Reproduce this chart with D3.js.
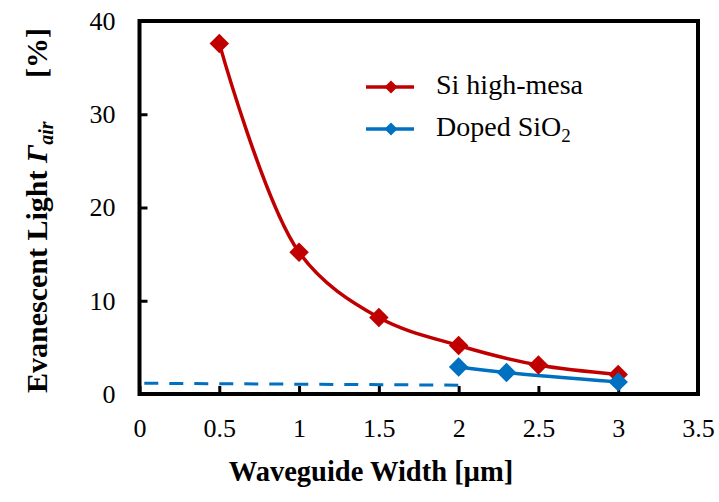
<!DOCTYPE html>
<html>
<head>
<meta charset="utf-8">
<script src="https://cdn.jsdelivr.net/npm/d3@7"></script>
<style>
  html, body { margin: 0; padding: 0; background: #fff; }
  svg { display: block; font-family: "Liberation Serif", "Times New Roman", serif; }
</style>
</head>
<body>
<svg id="chart" width="719" height="502"></svg>
<script>
// Evanescent light fraction vs waveguide width
const siWidth = [0.5, 1, 1.5, 2, 2.5, 3];
const siValue = [37.6, 15.2, 8.2, 5.2, 3.1, 2.1];

const sioWidth = [2, 2.3, 3];
const sioValue = [2.9, 2.3, 1.3];

const dashWidth = [0.03, 2];
const dashValue = [1.15, 0.95];

const xTicks = [0, 0.5, 1, 1.5, 2, 2.5, 3, 3.5];
const yTicks = [0, 10, 20, 30, 40];

const svg = d3.select("#chart");
const plotLeft = 139.5, plotRight = 698, plotTop = 21, plotBottom = 394;

const x = d3.scaleLinear().domain([0, 3.5]).range([plotLeft, plotRight]);
const y = d3.scaleLinear().domain([0, 40]).range([plotBottom, plotTop]);

const red = "#C00000", blue = "#0070C0";

// frame
svg.append("rect")
  .attr("x", plotLeft).attr("y", plotTop)
  .attr("width", plotRight - plotLeft).attr("height", plotBottom - plotTop)
  .attr("fill", "none").attr("stroke", "#000").attr("stroke-width", 4);

// axes with inward ticks
const xAxis = svg.append("g").attr("transform", `translate(0,${plotBottom})`)
  .call(d3.axisBottom(x).tickValues(xTicks).tickSize(-8).tickPadding(25).tickFormat(d3.format("")));
const yAxis = svg.append("g").attr("transform", `translate(${plotLeft},0)`)
  .call(d3.axisLeft(y).tickValues(yTicks).tickSize(-8).tickPadding(24).tickFormat(d3.format("")));
[xAxis, yAxis].forEach(g => {
  g.select(".domain").remove();
  g.selectAll(".tick line").attr("stroke", "#000").attr("stroke-width", 3);
  g.selectAll(".tick text").attr("fill", "#000")
    .style("font-family", "'Liberation Serif', serif").style("font-size", "26px");
});

// series
const line = d3.line().x(d => x(d[0])).y(d => y(d[1])).curve(d3.curveCatmullRom.alpha(0.5));
const siData = siWidth.map((w, i) => [w, siValue[i]]);
const sioData = sioWidth.map((w, i) => [w, sioValue[i]]);
const dashData = dashWidth.map((w, i) => [w, dashValue[i]]);

svg.append("path").datum(dashData)
  .attr("d", d3.line().x(d => x(d[0])).y(d => y(d[1])))
  .attr("fill", "none").attr("stroke", blue).attr("stroke-width", 3)
  .attr("stroke-dasharray", "14,11");

svg.append("path").datum(siData).attr("d", line)
  .attr("fill", "none").attr("stroke", red).attr("stroke-width", 3.5);
svg.append("path").datum(sioData).attr("d", line)
  .attr("fill", "none").attr("stroke", blue).attr("stroke-width", 3.5);

const diamond = d3.symbol().type(d3.symbolSquare).size(190);
function markers(data, color) {
  svg.append("g").selectAll("path").data(data).join("path")
    .attr("d", diamond)
    .attr("transform", d => `translate(${x(d[0])},${y(d[1])}) rotate(45)`)
    .attr("fill", color);
}
markers(siData, red);
markers(sioData, blue);

// legend
const legendDiamond = d3.symbol().type(d3.symbolSquare).size(85);
const legend = [
  { label: "Si high-mesa", color: red, y: 87 },
  { label: "Doped SiO", sub: "2", color: blue, y: 129 }
];
legend.forEach(l => {
  svg.append("line").attr("x1", 366).attr("x2", 414).attr("y1", l.y).attr("y2", l.y)
    .attr("stroke", l.color).attr("stroke-width", 3.5);
  svg.append("path").attr("d", legendDiamond)
    .attr("transform", `translate(391,${l.y}) rotate(45)`).attr("fill", l.color);
  const t = svg.append("text").attr("x", 436).attr("y", l.y + 7)
    .style("font-size", "28px").attr("fill", "#000").text(l.label);
  if (l.sub) t.append("tspan").attr("dy", 6).style("font-size", "19px").text(l.sub);
});

// axis titles
svg.append("text").attr("x", 371).attr("y", 481).attr("text-anchor", "middle")
  .style("font-size", "28.5px").style("font-weight", "bold").text("Waveguide Width [µm]");

const yt = svg.append("text")
  .attr("transform", "translate(47,393) rotate(-90)")
  .style("font-size", "30px").style("font-weight", "bold");
yt.append("tspan").text("Evanescent Light ");
yt.append("tspan").style("font-style", "italic").text("Γ");
yt.append("tspan").style("font-style", "italic").style("font-size", "20px").attr("dy", 6).text("air");
yt.append("tspan").attr("x", 315).attr("dy", -6).text("[%]");
</script>
</body>
</html>
